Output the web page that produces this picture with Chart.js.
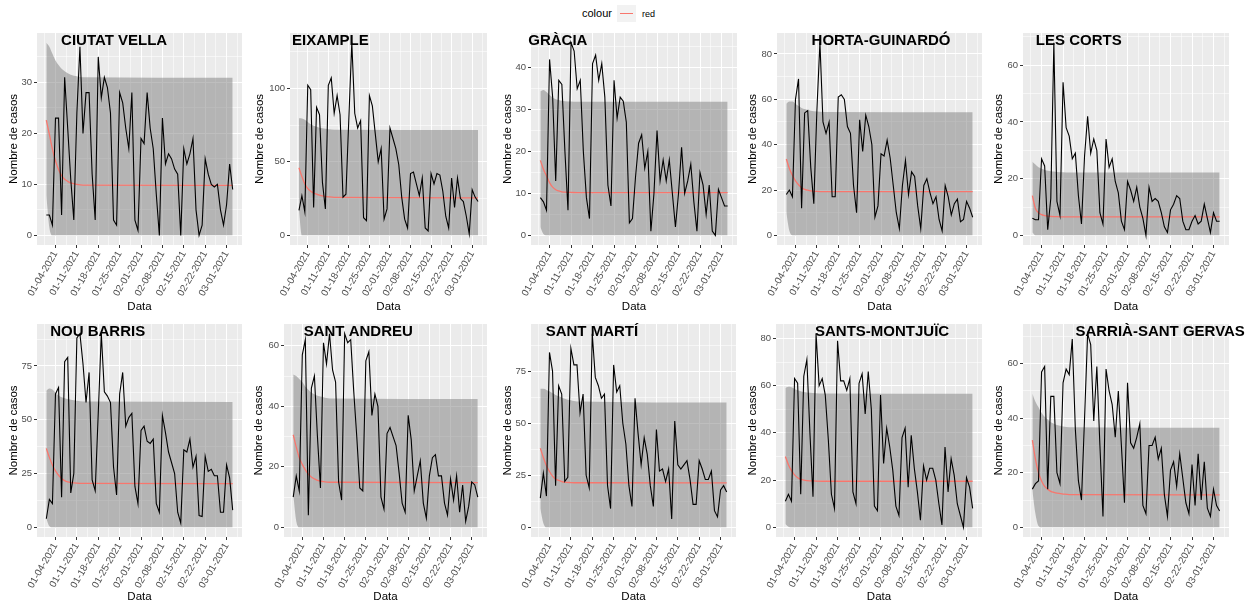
<!DOCTYPE html>
<html>
<head>
<meta charset="utf-8">
<script src="https://cdn.jsdelivr.net/npm/chart.js@4.4.1/dist/chart.umd.min.js"></script>
<style>
  body { margin: 0; background: #fff; }
  #page { position: relative; width: 1245px; height: 606px; overflow: hidden; font-family: "Liberation Sans", Arial, sans-serif; }
  .lg { position: absolute; color: #000; white-space: nowrap; }
  #key { position: absolute; left: 617px; top: 5px; width: 19px; height: 17px; background: #F2F2F2; }
  #key div { position: absolute; left: 3px; top: 8px; width: 13px; height: 1px; background: #F8766D; }
  .cell { position: absolute; }
</style>
</head>
<body>
<div id="page">
  <div class="lg" style="left:582px; top:7px; font-size:11px;">colour</div>
  <div id="key"><div></div></div>
  <div class="lg" style="left:642px; top:9px; font-size:9px;">red</div>
</div>
<script>
// x axis: days since 01-01-2021
const dayTicks = [3, 10, 17, 24, 31, 38, 45, 52, 59];
const dayLabels = ['01-04-2021', '01-11-2021', '01-18-2021', '01-25-2021', '02-01-2021',
                   '02-08-2021', '02-15-2021', '02-22-2021', '03-01-2021'];

const districts = ['CIUTAT VELLA', 'EIXAMPLE', 'GRÀCIA', 'HORTA-GUINARDÓ', 'LES CORTS',
                   'NOU BARRIS', 'SANT ANDREU', 'SANT MARTÍ', 'SANTS-MONTJUÏC', 'SARRIÀ-SANT GERVASI'];

// daily cases, one value per day from 01-01 to 03-03
const ciutatVella = [4,4,2,23,23,4,31, 21,11,3,24,37,20,28, 28,12,3,35,27,31,29, 24,3,2,28,26,21,17,
  28,3,1,19,18,28,21, 17,8,0,23,14,16,15, 13,12,0,17,14,16,19, 5,0,2,15,12,10,9.5, 10,5,2,6,14,9];
const eixample = [17,27,16,102,99,19,87, 82,36,18,102,107,83,95, 82,26,28,80,131,83,73, 78,12,10,95,88,69,50,
  59,11,18,73,66,59,48, 26,11,5,42,43,35,27, 39,5,3,42,35,42,41, 30,13,5,39,19,39,25, 23,13,1,31,26,23];
const gracia = [9,8,6,42,33,13,37, 36,20,6,46,44,35,37, 20,9,4,41,43,37,41, 33,12,7,37,28,33,32,
  27,3,4,14,22,24,16, 20,1,10,25,13,18,13, 18,10,2,10,21,10,13, 17,8,1,15,12,5,12, 1,0,11,9,7,7];
const hortaGuinardo = [18,20,17,60,69,12,54, 55,30,14,55,85,50,45, 50,17,17,61,62,60,48, 45,22,10,51,37,53,48,
  40,8,13,36,35,42,34, 22,10,3,22,33,18,28, 26,13,3,22,25,19,14, 17,7,2,22,17,9,14, 16,6,7,15,12,8];
const lesCorts = [6,5.5,5.5,27,24.5,2,13, 68,12,7,54,38,35,27, 29,14,4,28,42,29,34, 30,8,4,34,24,27,19,
  15,5,2,19,16,12,17, 10,6,0,17,12,13,12, 8,3,1,9,11,14,13, 5,2,2,5,7,4,5, 11,6,1,8,5,5];
const nouBarris = [4,13,11,62,65,14,77, 79,16,25,88,90,76,58, 72,22,17,53,90,63,61, 58,28,15,62,72,47,51,
  53,19,11,45,47,40,39, 41,11,7,52,44,35,30, 25,7,2,36,35,41,28, 33,5.5,5,33,26,27,24, 24,7,7,29,23,8];
const santAndreu = [10,17,12,57,62,4,46, 50,30,13,61,54,64,52, 48,15,9,64,61,62,45, 30,13,12,55,58,37,44,
  40,10,6,31,33,30,27, 18,8,5,37,29,12,17, 22,8,3,17,23,24,17, 17,8,4,16,9,17,5, 14,2,7,15,14,10];
const santMarti = [14,26,15,84,75,20,68, 64,22,24,86,78,78,55, 64,25,19,93,72,68,62, 64,20,9,78,65,68,50,
  40,20,10,62,45,30,43, 35,20,10,47,27,28,22, 28,4,51,30,28,30,32, 23,11,11,32,28,23,23, 27,8,5,18,20,17];
const santsMontjuic = [11,14,11,63,61,14,64, 71,40,13,82,60,63,56, 37,14,8,79,62,62,58, 63,15,10,61,65,48,66,
  50,9,7,56,27,42,34, 24,9,5,38,42,17,39, 25,15,3,26,20,25,25, 20,10,1,34,15,29,22, 10,5,0,21,17,8];
const sarria = [14,16,17,57,59,14,48, 48,20,16,53,58,56,69, 36,17,10,40,71,67,39, 59,30,4,58,50,45,33,
  50,30,9,53,31,29,33, 38,8,5,30,30,33,25, 29,12,4,21,24,15,27, 18,9,5,23,8,27,10, 24,7,4,14,8,6];

// fitted mean (red) and band (grey), read at these days
const curveDays = [0, 1, 2, 3, 4, 5, 6, 7, 8, 10, 12, 61];
const ciutatVellaMean  = [22.6,19.8,16.9,14.6,12.9,11.7,11,10.6,10.3,10,9.85,9.8];
const ciutatVellaUpper = [37.8,37,35.6,34.3,33.4,32.7,32.2,31.8,31.5,31.2,31,30.9];
const ciutatVellaLower = [7.8,1.5,0,0,0,0,0,0,0,0,0,0];
const eixampleMean  = [46,40,35,31.8,30,28.8,28,27.3,26.8,26.2,25.8,25.5];
const eixampleUpper = [79.6,79.4,78.5,77,75.5,74.5,73.8,73.2,72.8,72.1,71.8,71.6];
const eixampleLower = [17,0,0,0,0,0,0,0,0,0,0,0];
const graciaMean  = [17.9,15.8,14.2,12.6,11.5,10.9,10.6,10.4,10.3,10.25,10.2,10.2];
const graciaUpper = [34.4,34.7,34.2,33.5,32.9,32.5,32.3,32.1,32,31.95,31.9,31.9];
const graciaLower = [2,0.3,0,0,0,0,0,0,0,0,0,0];
const hortaGuinardoMean  = [33.7,29.5,26.5,24,22.3,21,20.3,19.9,19.6,19.4,19.3,19.3];
const hortaGuinardoUpper = [58,59,59,58,57,56.2,55.7,55.3,55,54.6,54.4,54.3];
const hortaGuinardoLower = [10,2,0,0,0,0,0,0,0,0,0,0];
const lesCortsMean  = [14,9.5,8,7.3,7,6.8,6.7,6.6,6.6,6.5,6.5,6.5];
const lesCortsUpper = [26,25,24,23.5,23.1,22.8,22.6,22.5,22.4,22.3,22.2,22.2];
const lesCortsLower = [1,0,0,0,0,0,0,0,0,0,0,0];
const nouBarrisMean  = [36.7,32.5,29,26.2,24.2,22.7,21.7,21.1,20.8,20.5,20.4,20.3];
const nouBarrisUpper = [63.5,64.5,64,62.5,61.3,60.5,60,59.6,59.3,58.8,58.5,58.3];
const nouBarrisLower = [4,0.5,0,0,0,0,0,0,0,0,0,0];
const santAndreuMean  = [30.6,26.5,23,20.8,19,17.6,16.6,16,15.5,15.1,14.9,14.8];
const santAndreuUpper = [50.5,50,49,48,46.5,45.5,44.5,44,43.5,43,42.6,42.4];
const santAndreuLower = [11,2,0,0,0,0,0,0,0,0,0,0];
const santMartiMean  = [38,33.5,29.6,26.8,24.6,23.2,22.5,22,21.7,21.5,21.4,21.3];
const santMartiUpper = [66.5,66.5,66,65.3,64.4,63.6,63,62.4,61.8,61,60.4,59.9];
const santMartiLower = [9,2,0,0,0,0,0,0,0,0,0,0];
const santsMontjuicMean  = [30,26.5,24,22.2,21,20.3,20,19.8,19.7,19.6,19.5,19.5];
const santsMontjuicUpper = [59,59.5,59.3,58.6,58,57.6,57.3,57.1,57,56.8,56.7,56.6];
const santsMontjuicLower = [1.4,0.2,0,0,0,0,0,0,0,0,0,0];
const sarriaMean  = [32,25,20,17,15,14,13.2,12.8,12.5,12.2,12.0,11.9];
const sarriaUpper = [49,46,44,42,40.5,39.5,38.5,38,37.5,37,36.7,36.5];
const sarriaLower = [13.5,5,0.5,0,0,0,0,0,0,0,0,0];

const series = [
  [ciutatVella, ciutatVellaMean, ciutatVellaUpper, ciutatVellaLower],
  [eixample, eixampleMean, eixampleUpper, eixampleLower],
  [gracia, graciaMean, graciaUpper, graciaLower],
  [hortaGuinardo, hortaGuinardoMean, hortaGuinardoUpper, hortaGuinardoLower],
  [lesCorts, lesCortsMean, lesCortsUpper, lesCortsLower],
  [nouBarris, nouBarrisMean, nouBarrisUpper, nouBarrisLower],
  [santAndreu, santAndreuMean, santAndreuUpper, santAndreuLower],
  [santMarti, santMartiMean, santMartiUpper, santMartiLower],
  [santsMontjuic, santsMontjuicMean, santsMontjuicUpper, santsMontjuicLower],
  [sarria, sarriaMean, sarriaUpper, sarriaLower]
];

// y tick step per panel
const yStep = [10, 50, 10, 20, 20, 25, 20, 25, 20, 20];
// where each district name sits (in days)
const titleDay = [22.2, 10.7, 5.7, 31, 15.1, 16.8, 21.5, 16.9, 31.5, 42.3];

// canvas boxes (pixels)
const boxes = [
  {left: 0,   top: 28, width: 246, height: 290, axisW: 37, padR: 4,  padT: 5, axisH: 73, titlePad: 4},
  {left: 246, top: 28, width: 246, height: 290, axisW: 44, padR: 5,  padT: 5, axisH: 73, titlePad: 4},
  {left: 494, top: 28, width: 246, height: 290, axisW: 37, padR: 3,  padT: 5, axisH: 73, titlePad: 4},
  {left: 739, top: 28, width: 246, height: 290, axisW: 38, padR: 3,  padT: 5, axisH: 73, titlePad: 4},
  {left: 985, top: 28, width: 260, height: 290, axisW: 38, padR: 16, padT: 5, axisH: 73, titlePad: 4},
  {left: 0,   top: 318, width: 246, height: 288, axisW: 37, padR: 4,  padT: 6, axisH: 69, titlePad: 2},
  {left: 245, top: 318, width: 246, height: 288, axisW: 39, padR: 4,  padT: 6, axisH: 69, titlePad: 2},
  {left: 494, top: 318, width: 246, height: 288, axisW: 37, padR: 4,  padT: 6, axisH: 69, titlePad: 2},
  {left: 739, top: 318, width: 246, height: 288, axisW: 37, padR: 3,  padT: 6, axisH: 69, titlePad: 2},
  {left: 985, top: 318, width: 260, height: 288, axisW: 38, padR: 16, padT: 6, axisH: 69, titlePad: 2}
];

Chart.defaults.font.family = '"Liberation Sans", Arial, sans-serif';
Chart.defaults.animation = false;

const panelBg = {
  id: 'panelBg',
  beforeDraw(chart) {
    const {ctx, chartArea: a} = chart;
    ctx.save();
    ctx.fillStyle = '#EBEBEB';
    ctx.fillRect(a.left, a.top, a.right - a.left, a.bottom - a.top);
    ctx.restore();
  }
};

const panelTitle = {
  id: 'panelTitle',
  afterDatasetsDraw(chart, args, opts) {
    const {ctx, chartArea: a, scales} = chart;
    ctx.save();
    ctx.font = 'bold 15px "Liberation Sans", Arial, sans-serif';
    ctx.fillStyle = '#000';
    ctx.textAlign = 'center';
    ctx.textBaseline = 'middle';
    ctx.fillText(opts.text, scales.x.getPixelForValue(opts.day), a.top + 8);
    ctx.restore();
  }
};

const xMinor = dayTicks.map(d => d - 3.5).concat([dayTicks[dayTicks.length - 1] + 3.5]);
const xTickValues = dayTicks.concat(xMinor).sort((a, b) => a - b);

function toPoints(xs, ys) {
  return ys.map((v, i) => ({x: xs[i], y: v}));
}

const page = document.getElementById('page');

districts.forEach((name, k) => {
  const [cases, mean, upper, lower] = series[k];
  const box = boxes[k];
  const step = yStep[k];
  const top = Math.max(Math.max(...cases), Math.max(...upper));
  const yMin = -0.05 * top, yMax = 1.05 * top;
  const yMajor = [];
  for (let v = 0; v <= yMax; v += step) yMajor.push(v);
  const yTicks = [];
  for (let v = -step / 2; v <= yMax; v += step / 2) if (v >= yMin) yTicks.push(v);

  const holder = document.createElement('div');
  holder.className = 'cell';
  holder.style.left = box.left + 'px';
  holder.style.top = box.top + 'px';
  const canvas = document.createElement('canvas');
  canvas.width = box.width;
  canvas.height = box.height;
  holder.appendChild(canvas);
  page.appendChild(holder);

  const days = cases.map((v, i) => i);

  new Chart(canvas, {
    type: 'line',
    data: {
      datasets: [
        {data: toPoints(days, cases), borderColor: '#000000', borderWidth: 1.1, pointRadius: 0, fill: false},
        {data: toPoints(curveDays, mean), borderColor: '#F8766D', borderWidth: 1.3, pointRadius: 0,
         cubicInterpolationMode: 'monotone', fill: false},
        {data: toPoints(curveDays, upper), borderWidth: 0, borderColor: 'rgba(0,0,0,0)', pointRadius: 0,
         cubicInterpolationMode: 'monotone', fill: '+1', backgroundColor: 'rgba(125,125,125,0.5)'},
        {data: toPoints(curveDays, lower), borderWidth: 0, borderColor: 'rgba(0,0,0,0)', pointRadius: 0,
         cubicInterpolationMode: 'monotone', fill: false}
      ]
    },
    options: {
      responsive: false,
      animation: false,
      layout: {padding: {top: box.padT, right: box.padR, bottom: 0, left: 0}},
      plugins: {
        legend: {display: false},
        tooltip: {enabled: false},
        panelTitle: {text: name, day: titleDay[k]}
      },
      scales: {
        x: {
          type: 'linear',
          min: -3.05,
          max: 64.05,
          afterBuildTicks(axis) { axis.ticks = xTickValues.map(v => ({value: v})); },
          afterFit(axis) { axis.height = box.axisH; axis.paddingLeft = 0; axis.paddingRight = 0; },
          ticks: {
            autoSkip: false, minRotation: 60, maxRotation: 60, padding: 1,
            color: '#4D4D4D', font: {size: 9.8},
            callback(v) { const i = dayTicks.indexOf(v); return i >= 0 ? dayLabels[i] : ''; }
          },
          grid: {
            color: c => dayTicks.includes(c.tick.value) ? '#FFFFFF' : 'rgba(255,255,255,0.55)',
            lineWidth: 1,
            tickLength: 3,
            tickColor: c => dayTicks.includes(c.tick.value) ? '#333333' : 'rgba(0,0,0,0)'
          },
          border: {display: false},
          title: {display: true, text: 'Data', color: '#000', font: {size: 11.5},
                  padding: {top: 0, bottom: box.titlePad}}
        },
        y: {
          type: 'linear',
          min: yMin,
          max: yMax,
          afterBuildTicks(axis) { axis.ticks = yTicks.map(v => ({value: v})); },
          afterFit(axis) { axis.width = box.axisW; axis.paddingTop = 0; axis.paddingBottom = 0; },
          ticks: {
            autoSkip: false, padding: 2, color: '#4D4D4D', font: {size: 9.5},
            callback(v) { return yMajor.includes(v) ? String(v) : ''; }
          },
          grid: {
            color: c => yMajor.includes(c.tick.value) ? '#FFFFFF' : 'rgba(255,255,255,0.55)',
            lineWidth: 1,
            tickLength: 3,
            tickColor: c => yMajor.includes(c.tick.value) ? '#333333' : 'rgba(0,0,0,0)'
          },
          border: {display: false},
          title: {display: true, text: 'Nombre de casos', color: '#000', font: {size: 11.5},
                  padding: {top: 7, bottom: 0}}
        }
      }
    },
    plugins: [panelBg, panelTitle]
  });
});
</script>
</body>
</html>
